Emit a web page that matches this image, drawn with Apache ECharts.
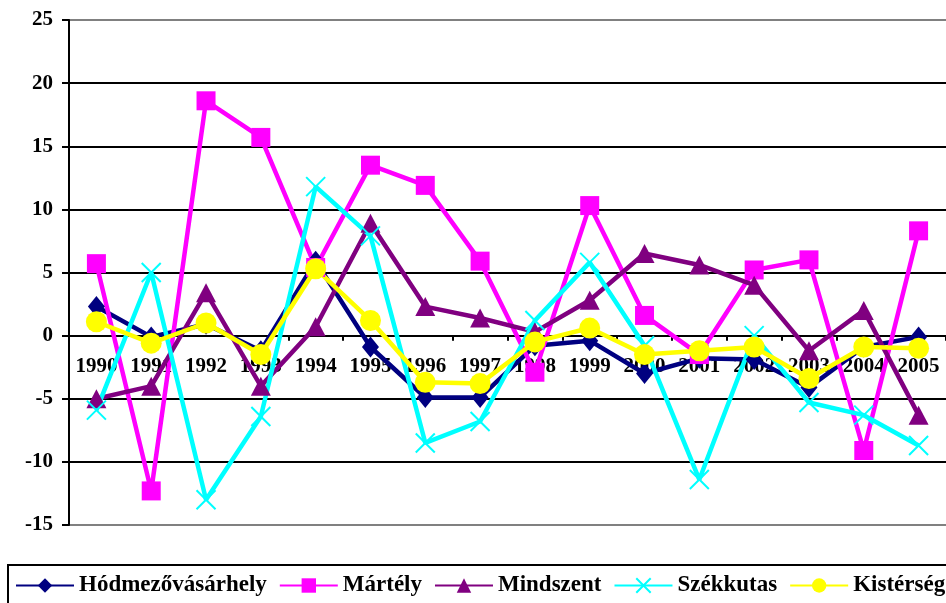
<!DOCTYPE html>
<html>
<head>
<meta charset="utf-8">
<script src="https://cdn.jsdelivr.net/npm/echarts@6/dist/echarts.min.js"></script>
<style>
  html, body { margin: 0; padding: 0; background: #fff; }
  #chart { width: 946px; height: 603px; }
</style>
</head>
<body>
<div id="chart"></div>
<script>
    var years = ['1990','1991','1992','1993','1994','1995','1996','1997','1998','1999','2000','2001','2002','2003','2004','2005'];
    var yTicks = { min: -15, max: 25, step: 5 };

    var hodmezo   = [2.3, -0.1, 0.9, -1.2, 5.9, -0.9, -4.9, -4.9, -0.8, -0.4, -3.0, -1.8, -1.9, -4.1, -0.9, -0.1];
    var martely   = [5.7, -12.3, 18.6, 15.7, 5.4, 13.5, 11.9, 5.9, -2.9, 10.3, 1.6, -1.5, 5.2, 6.0, -9.1, 8.3];
    var mindszent = [-5.0, -4.0, 3.4, -4.0, 0.7, 8.9, 2.3, 1.4, 0.3, 2.8, 6.5, 5.6, 4.0, -1.2, 2.0, -6.3];
    var szekkutas = [-5.9, 5.0, -13.0, -6.4, 11.8, 7.9, -8.5, -6.8, 1.2, 5.8, -0.8, -11.4, 0.0, -5.3, -6.3, -8.7];
    var kisterseg = [1.1, -0.6, 1.0, -1.5, 5.3, 1.2, -3.7, -3.8, -0.5, 0.6, -1.5, -1.2, -0.9, -3.4, -0.9, -1.0];

    var font = "'Liberation Serif', 'Times New Roman', serif";

    // plot area: top 20, bottom at 525 -> zero line sits 189.5px above the bottom
    var gridTop = 20, gridBottom = 78, plotH = 603 - gridTop - gridBottom;
    var zeroOffset = -plotH * (0 - yTicks.min) / (yTicks.max - yTicks.min);

    function makeSeries(name, data, color, symbol, size, extra) {
        var s = {
            name: name,
            type: 'line',
            data: data,
            symbol: symbol,
            symbolSize: size,
            lineStyle: { color: color, width: 4.5 },
            itemStyle: { color: color },
            z: 2
        };
        if (extra) {
            for (var k in extra) s[k] = extra[k];
        }
        return s;
    }

    var option = {
        animation: false,
        backgroundColor: '#fff',
        grid: { left: 69, right: -1, top: gridTop, bottom: gridBottom },
        legend: {
            left: 15,
            top: 574,
            width: 1000,
            padding: 0,
            itemWidth: 58,
            itemHeight: 18,
            itemGap: 12,
            textStyle: { fontFamily: font, fontWeight: 'bold', fontSize: 23, color: '#000' },
            data: ['Hódmezővásárhely', 'Mártély', 'Mindszent', 'Székkutas', 'Kistérség']
        },
        graphic: [{
            type: 'rect',
            shape: { x: 8, y: 565, width: 960, height: 60 },
            style: { fill: 'none', stroke: '#000', lineWidth: 2 },
            silent: true
        }],
        xAxis: {
            type: 'category',
            data: years,
            boundaryGap: true,
            offset: zeroOffset,
            axisLine: { onZero: false, lineStyle: { color: '#000', width: 2 } },
            axisTick: { show: true, length: 5, lineStyle: { color: '#000', width: 2 } },
            axisLabel: { margin: 20, color: '#000', fontFamily: font, fontWeight: 'bold', fontSize: 21 },
            splitLine: { show: false },
            z: 1
        },
        yAxis: {
            type: 'value',
            min: yTicks.min,
            max: yTicks.max,
            interval: yTicks.step,
            axisLine: { show: true, lineStyle: { color: '#000', width: 2 } },
            axisTick: { show: true, length: 7, lineStyle: { color: '#000', width: 2 } },
            axisLabel: { margin: 16, color: '#000', fontFamily: font, fontWeight: 'bold', fontSize: 21 },
            splitLine: {
                show: true,
                lineStyle: {
                    width: 2,
                    color: ['#808080', '#000', '#000', '#000', '#000', '#000', '#000', '#000', '#808080']
                }
            }
        },
        series: [
            makeSeries('Hódmezővásárhely', hodmezo, '#000080', 'diamond', [17, 21]),
            makeSeries('Mártély', martely, '#FF00FF', 'rect', 19),
            makeSeries('Mindszent', mindszent, '#800080', 'triangle', [20, 19]),
            makeSeries('Székkutas', szekkutas, '#00FFFF', 'path://M0,0L10,10M10,0L0,10', 19, {
                itemStyle: { color: '#00FFFF', borderColor: '#00FFFF', borderWidth: 2 }
            }),
            makeSeries('Kistérség', kisterseg, '#FFFF00', 'circle', 21)
        ]
    };

    var chart = echarts.init(document.getElementById('chart'));
    chart.setOption(option);
</script>
</body>
</html>
